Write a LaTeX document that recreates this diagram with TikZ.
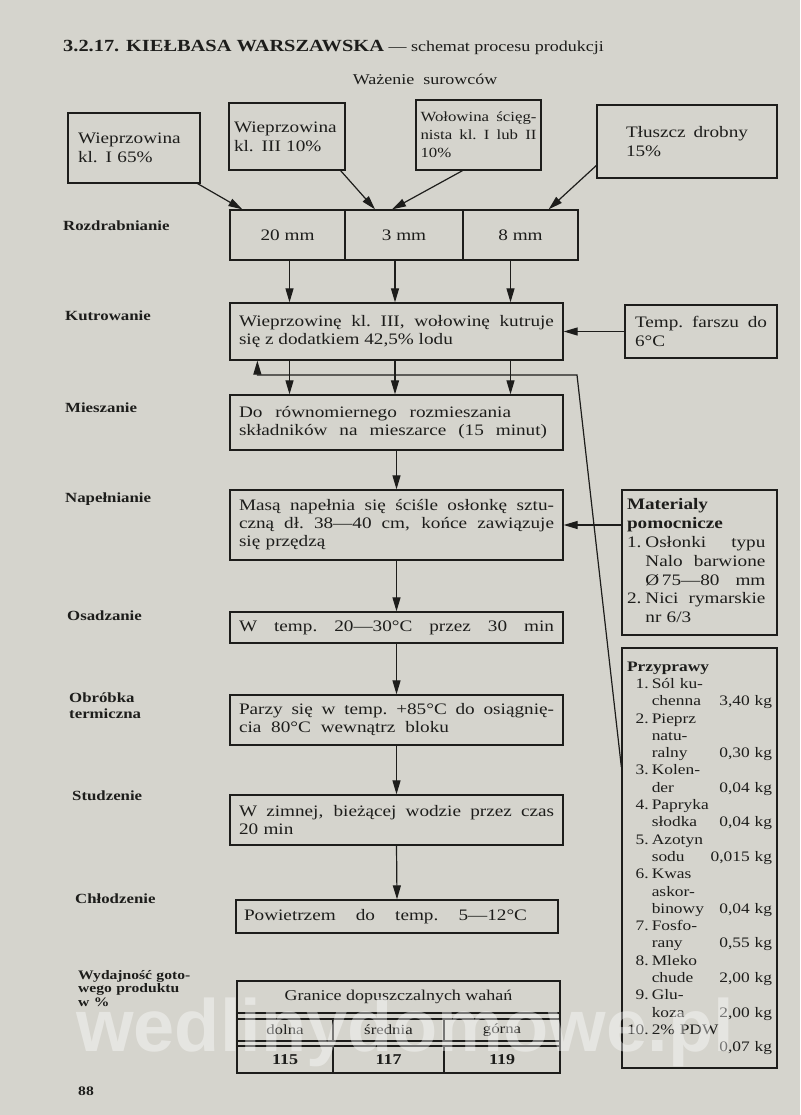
\documentclass[tikz,border=0pt]{standalone}
\usepackage{fontspec}
\setmainfont{Liberation Serif}[FakeStretch=1.2]
\setsansfont{Liberation Sans}
\usetikzlibrary{arrows.meta,positioning}
\definecolor{Paper}{HTML}{D5D4CD}
\definecolor{Ink}{HTML}{1D1D1B}
% a line spread to the given width (TikZ makes spaces rigid inside aligned nodes)
\newcommand{\fullline}[2][315pt]{\makebox[#1][s]{\spaceskip=0.3em plus 1fil\xspaceskip=0.3em plus 1fil\relax #2}}

\begin{document}
\begin{tikzpicture}[x=1pt,y=-1pt,
  stepbox/.style={draw=Ink,line width=1.3pt,text=Ink,text width=315pt,inner xsep=9pt,inner ysep=2pt,align=left,font=\fontsize{16}{18}\selectfont},
  srcbox/.style={draw=Ink,line width=1.3pt,text=Ink,inner sep=2pt,align=left,font=\fontsize{16}{19}\selectfont},
  sidebox/.style={draw=Ink,line width=1.3pt,text=Ink,text width=145pt,inner xsep=5pt,inner ysep=2pt,align=left},
  cutcell/.style={draw=Ink,line width=1.3pt,text=Ink,minimum height=50pt,font=\fontsize{16}{18}\selectfont},
  tabcell/.style={draw=Ink,line width=1.1pt,text=Ink,inner sep=1pt,font=\fontsize{14}{16}\selectfont},
  phase/.style={anchor=base west,text=Ink,inner sep=0pt,text width=150pt,align=left,font=\fontsize{14}{16}\selectfont\bfseries},
  flow/.style={draw=Ink,line width=1.2pt,-{Triangle[length=14pt,width=8pt]}}
]
\useasboundingbox (0,0) rectangle (800,1115);
\fill[Paper] (0,0) rectangle (800,1115);

% heading
\node[anchor=base west,inner sep=0pt,text=Ink] (title) at (63,52) {\fontsize{17}{18}\selectfont\bfseries 3.2.17. KIEŁBASA WARSZAWSKA\mdseries\fontsize{15}{18}\selectfont{} — schemat procesu produkcji};
\node[anchor=base,inner sep=0pt,text=Ink,font=\fontsize{15}{18}\selectfont] (waz) at (425,85) {Ważenie\ \ surowców};

% raw materials
\node[srcbox,minimum width=132pt,minimum height=70pt,text width=112pt] (w1) at (134,148) {Wieprzowina\\kl. I 65\%};
\node[srcbox,minimum width=116pt,minimum height=67pt,text width=106pt] (w2) at (287,136.5) {Wieprzowina\\kl. III 10\%};
\node[srcbox,minimum width=125pt,minimum height=70pt,text width=116pt,font=\fontsize{14}{18}\selectfont] (w3) at (478.5,135) {\fullline[116pt]{Wołowina ścięg-}\\\fullline[116pt]{nista kl. I lub II}\\10\%};
\node[srcbox,minimum width=180pt,minimum height=73pt,text width=122pt] (w4) at (687,141.5) {\fullline[122pt]{Tłuszcz drobny}\\15\%};

% process steps
\node[cutcell,minimum width=115pt] (r1) at (287.5,235) {20 mm};
\node[cutcell,minimum width=118pt] (r2) at (404,235) {3 mm};
\node[cutcell,minimum width=115pt] (r3) at (520.5,235) {8 mm};
\node[stepbox,minimum height=57pt] (kut) at (396.5,331.5) {\fullline{Wieprzowinę kl. III, wołowinę kutruje}\\\fullline[200pt]{się z dodatkiem 42,5\% lodu}};
\node[srcbox,minimum width=152pt,minimum height=53pt,text width=132pt] (temp) at (701,331.5) {\fullline[132pt]{Temp. farszu do}\\6°C};
\node[stepbox,minimum height=55pt] (mie) at (396.5,422.5) {\fullline[272pt]{Do równomiernego rozmieszania}\\\fullline[308pt]{składników na mieszarce (15 minut)}};
\node[stepbox,minimum height=70pt] (nap) at (396.5,525) {\fullline{Masą napełnia się ściśle osłonkę sztu-}\\\fullline{czną dł. 38—40 cm, końce zawiązuje}\\się przędzą};
\node[stepbox,minimum height=31pt] (osa) at (396.5,627.5) {\fullline{W temp. 20—30°C przez 30 min}};
\node[stepbox,minimum height=50pt] (obr) at (396.5,720) {\fullline{Parzy się w temp. +85°C do osiągnię-}\\\fullline[210pt]{cia 80°C wewnątrz bloku}};
\node[stepbox,minimum height=50pt] (stu) at (396.5,820) {\fullline{W zimnej, bieżącej wodzie przez czas}\\20 min};
\node[stepbox,minimum height=33pt,text width=306pt,inner xsep=8pt] (chl) at (397,916.5) {\fullline[283pt]{Powietrzem do temp. 5—12°C}};

% auxiliary materials
\node[sidebox,minimum height=145pt,font=\fontsize{16}{18.8}\selectfont] (mat) at (699.5,562.5) {%
\begin{tabular}{@{}r@{\hspace{4pt}}l@{}}
\multicolumn{2}{@{}l@{}}{\bfseries Materialy}\\
\multicolumn{2}{@{}l@{}}{\bfseries pomocnicze}\\
1. & \fullline[120pt]{Osłonki typu}\\
 & \fullline[120pt]{Nalo barwione}\\
 & \fullline[120pt]{Ø\,75—80 mm}\\
2. & \fullline[120pt]{Nici rymarskie}\\
 & nr 6/3
\end{tabular}};
\node[sidebox,minimum height=420pt,font=\fontsize{14.5}{17.3}\selectfont] (przy) at (699.5,858) {%
\begin{tabular*}{145pt}{@{}r@{\hspace{3pt}}l@{\extracolsep{\fill}}r@{}}
\multicolumn{3}{@{}l@{}}{\bfseries Przyprawy}\\
1. & Sól ku- & \\
 & chenna & 3,40 kg\\
2. & Pieprz & \\
 & natu- & \\
 & ralny & 0,30 kg\\
3. & Kolen- & \\
 & der & 0,04 kg\\
4. & Papryka & \\
 & słodka & 0,04 kg\\
5. & Azotyn & \\
 & sodu & 0,015 kg\\
6. & Kwas & \\
 & askor- & \\
 & binowy & 0,04 kg\\
7. & Fosfo- & \\
 & rany & 0,55 kg\\
8. & Mleko & \\
 & chude & 2,00 kg\\
9. & Glu- & \\
 & koza & 2,00 kg\\
10. & \multicolumn{2}{@{}l@{}}{2\% PDW}\\
 & & 0,07 kg
\end{tabular*}};

% stage names
\node[phase] (lrozd) at (63,230) {Rozdrabnianie};
\node[phase] (lkut) at (65,320) {Kutrowanie};
\node[phase] (lmie) at (65,412) {Mieszanie};
\node[phase] (lnap) at (65,502) {Napełnianie};
\node[phase] (losa) at (67,620) {Osadzanie};
\node[phase] (lobr) at (69,702) {Obróbka\\termiczna};
\node[phase] (lstu) at (72,800) {Studzenie};
\node[phase] (lchl) at (75,903) {Chłodzenie};
\node[phase,font=\fontsize{13}{13.5}\selectfont\bfseries] (lwyd) at (78,979) {Wydajność goto-\\wego produktu\\w \%};

% yield table
\node[draw=Ink,line width=1.3pt,minimum width=323pt,minimum height=92pt,inner sep=0pt] (tabframe) at (398.5,1027) {};
\node[tabcell,minimum width=323pt,minimum height=32pt,font=\fontsize{15}{18}\selectfont] (thead) at (398.5,997) {Granice dopuszczalnych wahań};
\node[tabcell,minimum width=96pt,minimum height=22pt] (tl1) at (285,1030) {dolna};
\node[tabcell,minimum width=111pt,minimum height=22pt] (tl2) at (388.5,1030) {średnia};
\node[tabcell,minimum width=116pt,minimum height=22pt] (tl3) at (502,1030) {górna};
\node[tabcell,minimum width=96pt,minimum height=27pt,font=\fontsize{15}{18}\selectfont\bfseries] (tv1) at (285,1059.5) {115};
\node[tabcell,minimum width=111pt,minimum height=27pt,font=\fontsize{15}{18}\selectfont\bfseries] (tv2) at (388.5,1059.5) {117};
\node[tabcell,minimum width=116pt,minimum height=27pt,font=\fontsize{15}{18}\selectfont\bfseries] (tv3) at (502,1059.5) {119};

\node[anchor=base west,inner sep=0pt,text=Ink,font=\fontsize{13}{14}\selectfont\bfseries] (page) at (78,1095) {88};

% connectors
\draw[flow] ([xshift=-3pt]w1.south east) -- ([xshift=13pt]r1.north west);
\draw[flow] ([xshift=-5pt]w2.south east) -- ([xshift=-29pt]r2.north);
\draw[flow] ([xshift=-16pt]w3.south) -- ([xshift=-12pt]r2.north);
\draw[flow] ([yshift=-24pt]w4.west) -- ([xshift=-30pt]r3.north east);
\foreach \c/\s in {r1/2,r2/-9,r3/-10} {
  \draw[flow] ([xshift=\s pt]\c.south) -- ([xshift=\s pt]\c.south |- kut.north);
  \draw[flow] ([xshift=\s pt]\c.south |- kut.south) -- ([xshift=\s pt]\c.south |- mie.north);
}
\draw[flow] (temp.west) -- (kut.east);
\coordinate (ret) at (577,375);
\draw[flow] ([yshift=91pt]przy.west) -- (ret) -- ([xshift=28pt]kut.south west |- ret) -- ([xshift=28pt]kut.south west);
\draw[flow] (nap.east -| mat.west) -- (nap.east);
\foreach \a/\b in {mie/nap,nap/osa,osa/obr,obr/stu,stu/chl}
  \draw[flow] (\a.south) -- (\b.north);

% watermark
\node[text=white,opacity=0.4,inner sep=0pt,font=\sffamily\bfseries\fontsize{74}{74}\selectfont] (wm) at (405,1032) {wedlinydomowe.pl};
\end{tikzpicture}
\end{document}
